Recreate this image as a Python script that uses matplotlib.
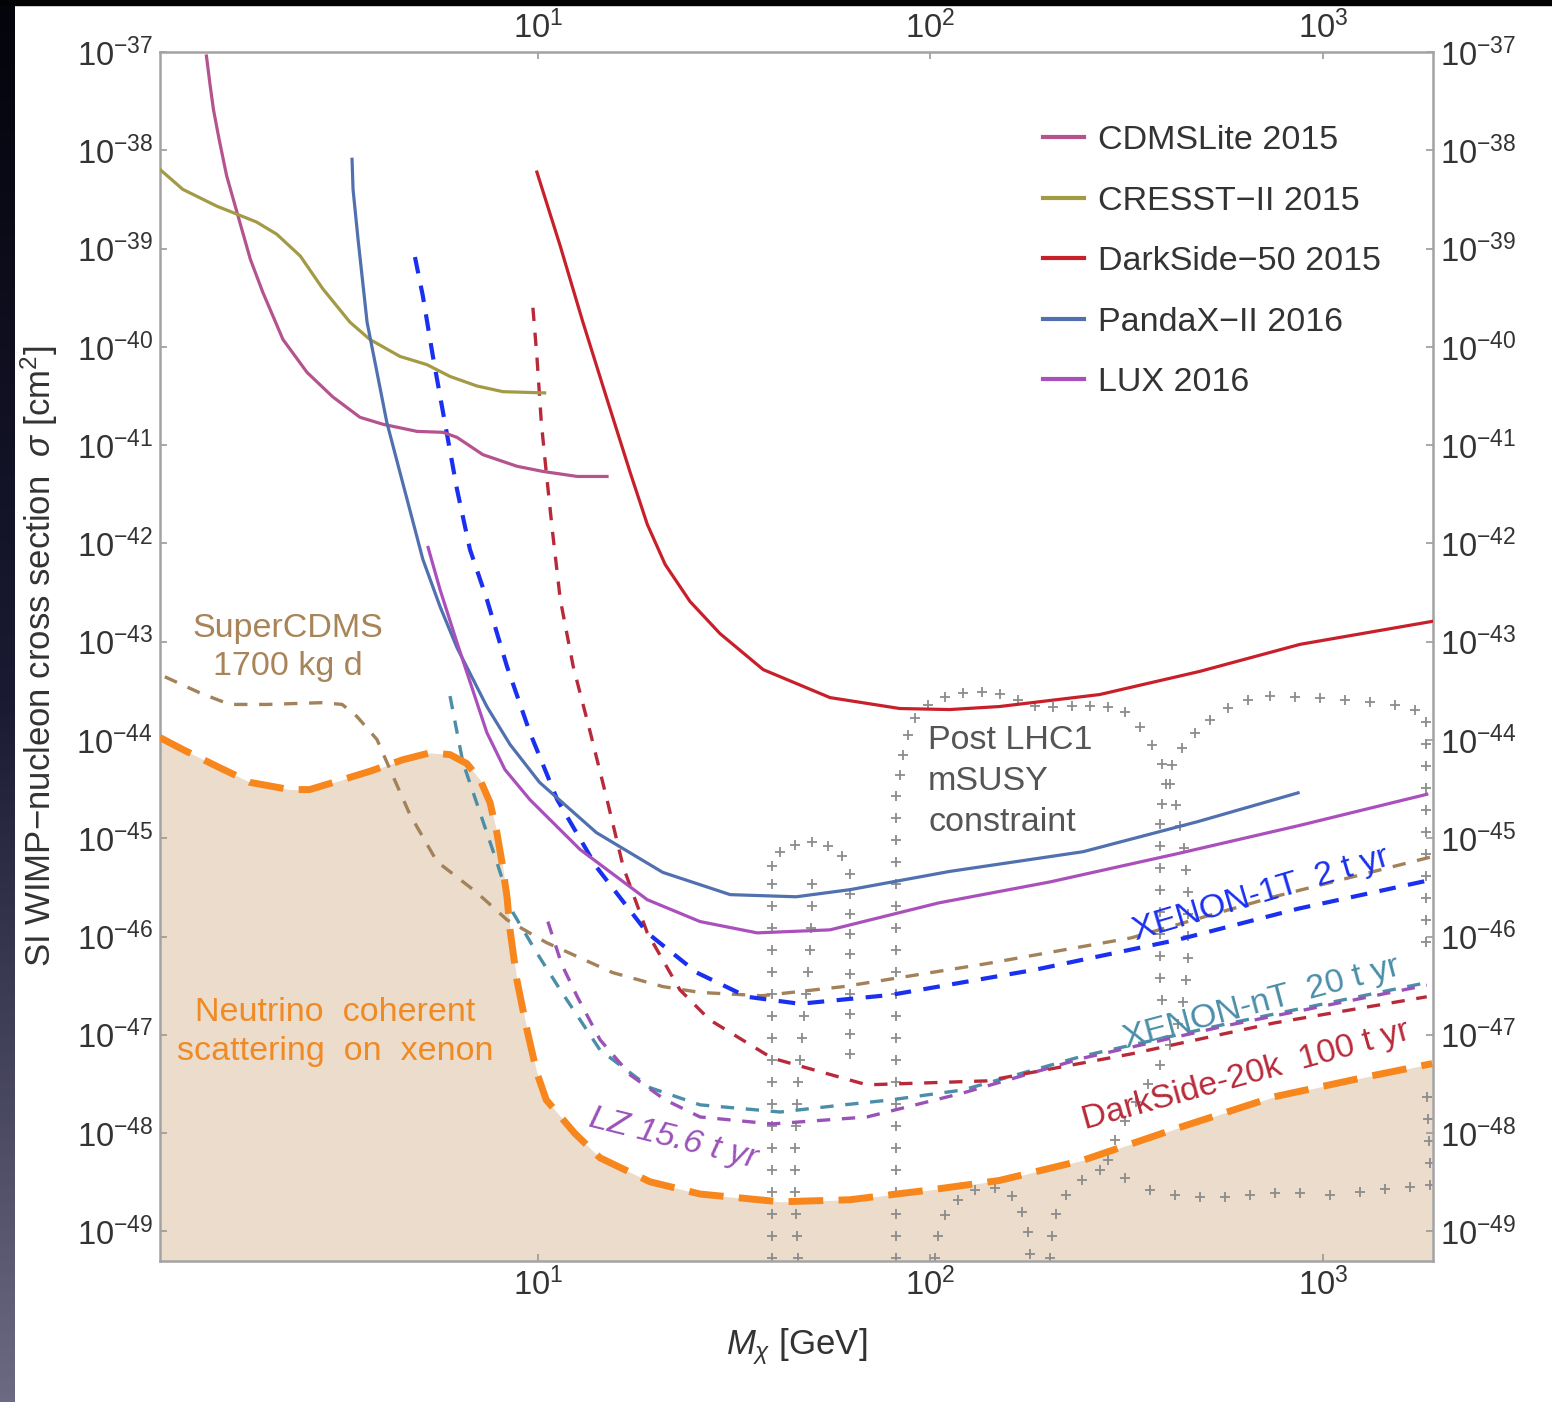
import numpy as np
import matplotlib
matplotlib.use("Agg")
import matplotlib.pyplot as plt
from matplotlib.patches import Rectangle

plt.rcParams['font.family'] = ['Liberation Sans', 'DejaVu Sans']
plt.rcParams['mathtext.fontset'] = 'custom'
plt.rcParams['mathtext.rm'] = 'Liberation Sans'
plt.rcParams['mathtext.it'] = 'Liberation Sans:italic'
plt.rcParams['mathtext.sf'] = 'Liberation Sans'
plt.rcParams['mathtext.bf'] = 'Liberation Sans:bold'

# ---------------- current limits (solid) ----------------
cdmslite_m = [1.43, 1.46, 1.49, 1.54, 1.61, 1.71, 1.85, 1.99, 2.24, 2.58, 3.00,
              3.52, 4.03, 4.92, 5.73, 6.22, 7.24, 8.84, 10.3, 12.6, 15.0]
cdmslite_s = [9.1e-38, 4.7e-38, 2.6e-38, 1.3e-38, 5.5e-39, 2.35e-39, 7.8e-40,
              3.6e-40, 1.19e-40, 5.5e-41, 3.1e-41, 1.92e-41, 1.63e-41, 1.38e-41,
              1.35e-41, 1.2e-41, 8.0e-42, 6.1e-42, 5.4e-42, 4.8e-42, 4.8e-42]

cresst_m = [1.088, 1.245, 1.52, 1.71, 1.92, 2.16, 2.48, 2.83, 3.32, 3.73, 4.45,
            5.21, 5.97, 6.99, 8.14, 10.4]
cresst_s = [6.4e-39, 4.0e-39, 2.7e-39, 2.24e-39, 1.86e-39, 1.40e-39, 8.4e-40,
            3.9e-40, 1.78e-40, 1.19e-40, 8.0e-41, 6.6e-41, 5.0e-41, 4.0e-41,
            3.5e-41, 3.4e-41]

ds50_m = [9.94, 11.4, 13.0, 15.0, 17.2, 19.0, 21.1, 24.4, 29.1, 37.5, 55.5, 83.6,
          112, 150, 270, 487, 875, 1900]
ds50_s = [6.0e-39, 1.06e-39, 1.82e-40, 2.93e-41, 5.2e-42, 1.56e-42, 6.1e-43,
          2.57e-43, 1.21e-43, 5.2e-44, 2.7e-44, 2.09e-44, 2.04e-44, 2.19e-44,
          2.9e-44, 5.0e-44, 9.4e-44, 1.61e-43]

pandax_m = [3.36, 3.38, 3.48, 3.67, 3.89, 4.12, 4.45, 4.72, 5.09, 5.63, 6.22,
            7.41, 8.49, 10.1, 14.1, 20.8, 30.9, 45.5, 62.4, 112, 245, 481, 865]
pandax_s = [8.1e-39, 4.0e-39, 1.25e-39, 1.78e-40, 5.5e-41, 1.71e-41, 5.3e-42,
            2.17e-42, 6.9e-43, 2.28e-43, 8.7e-44, 2.19e-44, 9.0e-45, 3.7e-45,
            1.14e-45, 4.5e-46, 2.67e-46, 2.54e-46, 3.0e-46, 4.6e-46, 7.3e-46,
            1.48e-45, 2.9e-45]

lux_m = [5.25, 5.63, 6.22, 7.41, 8.24, 9.54, 12.8, 19.0, 25.9, 36.2, 55.5, 105,
         202, 428, 865, 1840]
lux_s = [9.1e-43, 3.4e-43, 9.8e-44, 1.19e-44, 5.0e-45, 2.47e-45, 7.7e-46,
         2.37e-46, 1.42e-46, 1.09e-46, 1.17e-46, 2.2e-46, 3.6e-46, 7.0e-46,
         1.34e-45, 2.8e-45]

# ---------------- projections (dashed) ----------------
xe1t_m = [4.86, 5.09, 5.40, 5.73, 6.22, 6.71, 7.41, 8.34, 9.54, 11.2, 14.1,
          19.0, 25.4, 34.1, 46.5, 79.4, 185, 428, 865, 1900]
xe1t_s = [8.2e-40, 3.3e-40, 8.0e-41, 2.16e-41, 3.55e-42, 8.7e-43, 2.7e-43,
          5.6e-44, 1.19e-44, 2.47e-45, 5.1e-46, 1.09e-46, 4.3e-47, 2.44e-47,
          2.07e-47, 2.55e-47, 4.6e-47, 9.3e-47, 1.92e-46, 3.8e-46]

ds20k_m = [9.71, 9.94, 10.2, 10.5, 10.9, 11.4, 12.3, 13.6, 15.0, 16.5, 19.0,
           23.0, 27.4, 39.5, 68.9, 139, 325, 751, 1840]
ds20k_s = [2.5e-40, 8.0e-41, 1.71e-41, 5.3e-42, 1.29e-42, 2.7e-43, 5.6e-44,
           1.19e-44, 2.47e-45, 5.1e-46, 1.09e-46, 2.87e-47, 1.42e-47, 5.8e-48,
           3.1e-48, 3.4e-48, 6.4e-48, 1.32e-47, 2.44e-47]

xent_m = [5.97, 6.44, 7.12, 7.86, 8.64, 9.94, 11.4, 14.4, 19.3, 25.9, 41.4,
          60.2, 79.4, 121, 245, 567, 1840]
xent_s = [2.8e-44, 5.9e-45, 1.82e-45, 5.7e-46, 1.75e-46, 6.8e-47, 2.87e-47,
          7.0e-48, 2.9e-48, 1.94e-48, 1.64e-48, 1.94e-48, 2.18e-48, 2.75e-48,
          6.1e-48, 1.29e-47, 3.4e-47]

lz_m = [10.6, 11.5, 12.6, 14.4, 17.2, 21.1, 25.9, 39.5, 68.9, 121, 245, 567, 1840]
lz_s = [1.42e-46, 5.2e-47, 2.44e-47, 8.9e-48, 3.9e-48, 2.18e-48, 1.46e-48,
        1.24e-48, 1.46e-48, 2.56e-48, 5.8e-48, 1.24e-47, 3.2e-47]

scdms_m = [1.12, 1.38, 1.64, 2.04, 2.83, 3.17, 3.46, 3.89, 4.20, 4.72, 5.53,
           6.99, 8.34, 10.5, 15.5, 20.8, 25.9, 37.2, 60.2, 139, 325, 751, 1900]
scdms_s = [4.4e-44, 3.0e-44, 2.3e-44, 2.3e-44, 2.4e-44, 2.3e-44, 1.73e-44,
           1.01e-44, 5.0e-45, 1.74e-45, 5.8e-46, 2.8e-46, 1.48e-46, 8.7e-47,
           4.3e-47, 3.1e-47, 2.7e-47, 2.5e-47, 3.1e-47, 5.3e-47, 9.7e-47,
           2.54e-46, 6.5e-46]

# neutrino coherent scattering floor (xenon)
nu_m = [1.088, 1.245, 1.52, 1.85, 2.33, 2.62, 3.08, 3.73, 4.53, 5.31, 5.97,
        6.59, 7.12, 7.55, 7.86, 8.10, 8.34, 8.49, 8.84, 9.38, 9.94, 10.5, 12.4,
        14.4, 19.3, 25.9, 41.4, 62.4, 99.8, 150, 245, 428, 751, 1320, 1900]
nu_s = [1.06e-44, 8.0e-45, 5.4e-45, 3.7e-45, 3.13e-45, 3.13e-45, 3.8e-45,
        4.8e-45, 6.3e-45, 7.4e-45, 7.1e-45, 5.75e-45, 3.95e-45, 2.31e-45,
        1.14e-45, 5.65e-46, 2.54e-46, 1.17e-46, 3.6e-47, 1.12e-47, 4.1e-48,
        2.18e-48, 1.0e-48, 5.6e-49, 3.2e-49, 2.4e-49, 2.0e-49, 2.1e-49,
        2.64e-49, 3.3e-49, 5.3e-49, 1.13e-48, 2.34e-48, 3.8e-48, 5.1e-48]

# ---------------- post-LHC1 mSUSY contours (log10 mass, log10 sigma) ----------------
msusy_a_logm = ([1.5963] * 19 + [1.6167, 1.6549, 1.6983, 1.7390, 1.7747]
                + [1.7951] * 10)
msusy_a_logsig = [-49.271, -49.047, -48.823, -48.599, -48.375, -48.151, -47.927,
                  -47.703, -47.479, -47.255, -47.031, -46.807, -46.583, -46.358,
                  -46.134, -45.910, -45.686, -45.462, -45.279,
                  -45.137, -45.065, -45.035, -45.075, -45.177,
                  -45.361, -45.564, -45.768, -45.972, -46.175, -46.379, -46.583,
                  -46.786, -46.990, -47.194]

msusy_a2_logm = [1.6983, 1.6983, 1.6957, 1.6932, 1.6881, 1.6830, 1.6779, 1.6728,
                 1.6677, 1.6626, 1.6600, 1.6575, 1.6549, 1.6549, 1.6549, 1.6575,
                 1.6600, 1.6626]
msusy_a2_logsig = [-45.462, -45.686, -45.910, -46.134, -46.358, -46.583, -46.807,
                   -47.031, -47.255, -47.479, -47.703, -47.927, -48.151, -48.375,
                   -48.599, -48.823, -49.047, -49.271]

msusy_b_logm = ([1.912] * 22
                + [1.9225, 1.930, 1.943, 1.961, 1.994, 2.037, 2.083, 2.131, 2.177,
                   2.223, 2.267, 2.312, 2.361, 2.407, 2.453, 2.496]
                + [2.5342, 2.5647, 2.5902, 2.6106, 2.6259, 2.6361, 2.6463, 2.6514,
                   2.6565, 2.6565, 2.6565, 2.6565, 2.6514, 2.6437, 2.6310, 2.6106,
                   2.5851, 2.5545, 2.5240, 2.4959, 2.4705, 2.4526])
msusy_b_logsig = ([-49.271, -49.047, -48.823, -48.599, -48.375, -48.151, -47.927,
                   -47.703, -47.479, -47.255, -47.031, -46.807, -46.583, -46.358,
                   -46.134, -45.910, -45.686, -45.462, -45.238, -45.014, -44.790,
                   -44.566]
                  + [-44.352, -44.149, -43.945, -43.772, -43.640, -43.558, -43.517,
                     -43.507, -43.527, -43.589, -43.650, -43.660, -43.650, -43.650,
                     -43.660, -43.711]
                  + [-43.864, -44.047, -44.240, -44.444, -44.658, -44.872, -45.096,
                     -45.320, -45.544, -45.768, -45.992, -46.216, -46.440, -46.664,
                     -46.888, -47.102, -47.306, -47.499, -47.682, -47.876, -48.069,
                     -48.273])

msusy_c_logm = ([2.5902] + [2.5851] * 8
                + [2.5902, 2.6004, 2.6157, 2.6412, 2.6743, 2.7125, 2.7584, 2.8094,
                   2.8654, 2.9292, 2.9929, 3.0566, 3.1203, 3.1840, 3.2350, 3.2630]
                + [3.2630] * 10)
msusy_c_logsig = ([-46.644, -46.420, -46.196, -45.972, -45.747, -45.523, -45.299,
                   -45.075, -44.851]
                  + [-44.648, -44.444, -44.251, -44.077, -43.925, -43.792, -43.670,
                     -43.589, -43.548, -43.558, -43.568, -43.589, -43.609, -43.640,
                     -43.690, -43.813]
                  + [-44.037, -44.261, -44.485, -44.709, -44.933, -45.157, -45.381,
                     -45.605, -45.829, -46.053])

msusy_d_logm = [2.3048, 2.3099, 2.3201, 2.3456, 2.3863, 2.4322, 2.4959, 2.5596,
                2.6233, 2.6871, 2.7508, 2.8145, 2.8782, 2.9419, 3.0183, 3.0948,
                3.1585, 3.2222, 3.2732, 3.2732, 3.2706, 3.2681, 3.2655]
msusy_d_logsig = [-49.271, -49.047, -48.823, -48.629, -48.477, -48.375, -48.456,
                  -48.578, -48.629, -48.650, -48.650, -48.629, -48.609, -48.609,
                  -48.629, -48.599, -48.568, -48.548, -48.528, -48.303, -48.079,
                  -47.855, -47.631]

msusy_e_logm = [2.0117, 2.0194, 2.0372, 2.0703, 2.1137, 2.1646, 2.2080, 2.2334,
                2.2487, 2.2538]
msusy_e_logsig = [-49.271, -49.047, -48.833, -48.680, -48.578, -48.558, -48.640,
                  -48.803, -49.006, -49.230]

msusy_contours = [(msusy_a_logm, msusy_a_logsig), (msusy_a2_logm, msusy_a2_logsig),
                  (msusy_b_logm, msusy_b_logsig), (msusy_c_logm, msusy_c_logsig),
                  (msusy_d_logm, msusy_d_logsig), (msusy_e_logm, msusy_e_logsig)]

legend_labels = ['CDMSLite 2015', 'CRESST\u2212II 2015', 'DarkSide\u221250 2015',
                 'PandaX\u2212II 2016', 'LUX 2016']

# ---------------- figure ----------------
W, H = 1552, 1402
fig = plt.figure(figsize=(W / 100, H / 100), dpi=100, facecolor='white')

# dark slide border along the top and left edges
strip = fig.add_axes([0, 0, 15 / W, 1])
strip.set_axis_off()
grad = np.linspace(0, 1, 256)[:, None]
cmap = matplotlib.colors.LinearSegmentedColormap.from_list(
    'edge', ['#04040c', '#1a1a33', '#6c6a82'])
strip.imshow(grad, aspect='auto', cmap=cmap, extent=[0, 1, 0, 1], origin='upper')
fig.patches.append(Rectangle((0, 1 - 5 / H), 1, 5 / H, transform=fig.transFigure,
                             color='#030306', zorder=10))

ax = fig.add_axes([160 / W, 1 - 1261 / H, (1432.7 - 160) / W, (1261 - 52) / H])
ax.set_xscale('log')
ax.set_yscale('log')
xmin, xmax = 10 ** 0.037, 10 ** 3.28
ymin, ymax = 5e-50, 1e-37
ax.set_xlim(xmin, xmax)
ax.set_ylim(ymin, ymax)

# neutrino floor fill
ax.fill_between(nu_m, nu_s, ymin, color='#ecdccb', lw=0, zorder=1)

# mSUSY constraint crosses
for lm, ls in msusy_contours:
    ax.plot(10 ** np.array(lm), 10 ** np.array(ls), ls='none', marker='+',
            ms=7, mew=1.3, color='#8c8c8c', zorder=2, clip_on=True)

# dashed projections
ax.plot(scdms_m, scdms_s, color='#a3825a', lw=2.4, dashes=(4, 3.5), zorder=3)
ax.plot(xent_m, xent_s, color='#4a8ea8', lw=2.4, dashes=(4, 3.5), zorder=3)
ax.plot(lz_m, lz_s, color='#9a52b8', lw=2.4, dashes=(4, 3.5), zorder=3)
ax.plot(ds20k_m, ds20k_s, color='#b82a3a', lw=2.4, dashes=(4, 3.5), zorder=3)
ax.plot(xe1t_m, xe1t_s, color='#1a30f0', lw=3.0, dashes=(4, 3), zorder=3)
ax.plot(nu_m, nu_s, color='#f7861c', lw=5.0, dashes=(5, 2.2), zorder=4)

# solid limits
l1, = ax.plot(cdmslite_m, cdmslite_s, color='#b5538f', lw=2.3, zorder=5)
l2, = ax.plot(cresst_m, cresst_s, color='#a39a45', lw=2.3, zorder=5)
l3, = ax.plot(ds50_m, ds50_s, color='#c8202a', lw=2.3, zorder=5)
l4, = ax.plot(pandax_m, pandax_s, color='#5070b0', lw=2.3, zorder=5)
l5, = ax.plot(lux_m, lux_s, color='#aa50bc', lw=2.3, zorder=5)

leg = ax.legend([l1, l2, l3, l4, l5], legend_labels, loc='upper left',
                bbox_to_anchor=(0.6938, 0.9397), frameon=False, fontsize=24.5,
                handlelength=1.2, handletextpad=0.42, labelspacing=0.87,
                borderpad=0, borderaxespad=0)
for t in leg.get_texts():
    t.set_color('#333333')
for h in leg.legend_handles:
    h.set_linewidth(3.0)

# annotations
ax.text(2.31, 8.8e-44, 'SuperCDMS\n1700 kg d', color='#a88458', fontsize=24.5,
        ha='center', va='center', linespacing=1.3)
ax.text(3.04, 1.07e-47, 'Neutrino  coherent\nscattering  on  xenon',
        color='#f08a24', fontsize=24.5, ha='center', va='center', linespacing=1.3)
ax.text(10 ** 1.994, 3.77e-45, 'Post LHC1\nmSUSY\nconstraint', color='#555555',
        fontsize=24.5, ha='left', va='center', linespacing=1.42)
ax.text(10 ** 2.8425, 2.67e-46, 'XENON-1T  2 t yr', color='#1a30f0',
        fontsize=24.5, ha='center', va='center', rotation=16.5,
        rotation_mode='anchor')
ax.text(10 ** 2.845, 2.12e-47, 'XENON-nT  20 t yr', color='#4a8ea8',
        fontsize=24.5, ha='center', va='center', rotation=15,
        rotation_mode='anchor')
ax.text(10 ** 2.804, 3.82e-48, 'DarkSide-20k  100 t yr', color='#b82a3a',
        fontsize=24.5, ha='center', va='center', rotation=15.5,
        rotation_mode='anchor')
ax.text(10 ** 1.344, 8.7e-49, 'LZ 15.6 t yr', color='#9a52b8', fontsize=24.5,
        ha='center', va='center', rotation=-14, rotation_mode='anchor',
        style='italic')

# axes styling
ax.set_xticks([10, 100, 1000])
ax.set_xticklabels([r'$10^{1}$', r'$10^{2}$', r'$10^{3}$'])
yt = [10.0 ** -k for k in range(37, 50)]
ax.set_yticks(yt)
ax.set_yticklabels([r'$10^{-%d}$' % k for k in range(37, 50)])
ax.xaxis.set_minor_locator(matplotlib.ticker.NullLocator())
ax.yaxis.set_minor_locator(matplotlib.ticker.NullLocator())
ax.tick_params(which='major', direction='in', length=5, width=1.2,
               color='#999999', labelsize=23.5, labelcolor='#333333',
               top=True, right=True, labeltop=True, labelright=True, pad=5)
for s in ax.spines.values():
    s.set_color('#a3a3a3')
    s.set_linewidth(1.8)

ax.set_xlabel(r'$M_{\chi}$ [GeV]', fontsize=25, color='#333333', labelpad=17)
ax.set_ylabel(r'SI WIMP$-$nucleon cross section  $\sigma$ [cm$^2$]',
              fontsize=25, color='#333333', labelpad=12)

fig.savefig('out.png', dpi=100, facecolor='white')
